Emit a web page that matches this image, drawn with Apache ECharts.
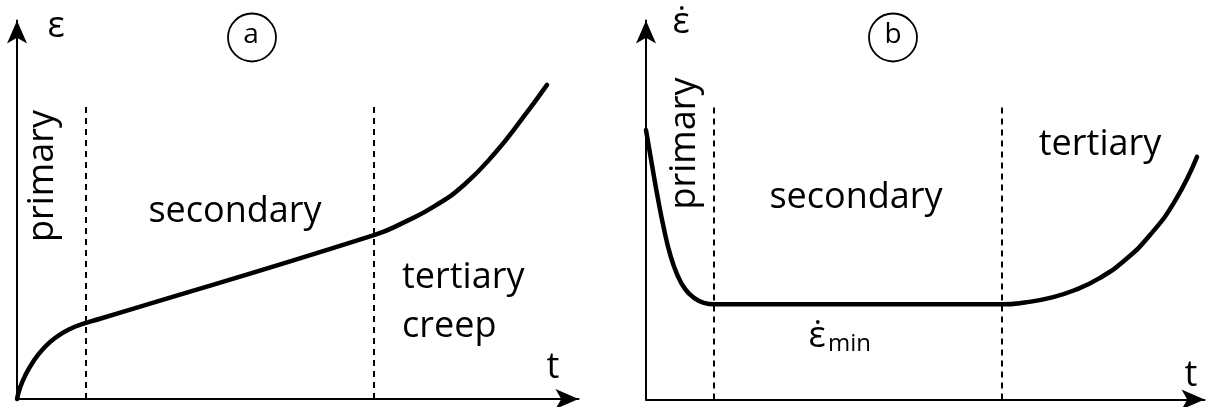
<!DOCTYPE html>
<html>
<head>
<meta charset="utf-8">
<script src="https://cdn.jsdelivr.net/npm/echarts@6/dist/echarts.min.js"></script>
<style>
  html, body { margin: 0; padding: 0; background: #fff; }
  #chart { width: 1217px; height: 407px; }
</style>
</head>
<body>
<div id="chart"></div>
<script>
// (a) creep strain ε against time t (arbitrary units, 0–100)
const strainTime   = [0, 0.53, 1.42, 2.85, 4.63, 6.77, 9.44, 12.29, 14.78, 63.58, 69.10, 74.44, 79.79, 85.13, 89.94, 94.39];
const strainValues = [0, 2.9, 6.1, 9.8, 13.2, 16.1, 18.5, 20.1, 21.2, 43.3, 46.8, 51.0, 56.8, 65.0, 74.0, 83.0];

// (b) creep rate ε̇ against time t
const rateTime   = [0, 1.07, 2.15, 3.22, 4.30, 5.55, 6.98, 8.59, 10.38, 12.18, 63.74, 67.86, 72.34, 76.81, 81.29, 85.77, 90.24, 94.72, 98.66];
const rateValues = [71.1, 61.9, 52.9, 45.0, 38.4, 33.1, 29.2, 26.8, 25.5, 25.1, 25.1, 25.6, 26.8, 28.9, 32.1, 36.8, 43.4, 52.4, 64.0];

// stage boundaries (primary | secondary | tertiary) and height of the dashed guides
const boundariesA = [12.29, 63.58];
const boundariesB = [12.18, 63.74];
const boundaryTop = 78.2;

const FONT = '"Open Sans", "Noto Sans", sans-serif';

const pairs = (xs, ys) => xs.map((x, i) => [x, ys[i]]);

function axisPair(gridIndex) {
  const line = {
    show: true,
    onZero: false,
    symbol: ['none', 'arrow'],
    symbolSize: [15, 23],
    lineStyle: { color: '#000', width: 2 }
  };
  const common = {
    type: 'value', min: 0, max: 100, gridIndex,
    axisLine: line,
    axisTick: { show: false },
    axisLabel: { show: false },
    splitLine: { show: false }
  };
  return [common, Object.assign({}, common)];
}

const [xA, yA] = axisPair(0);
const [xB, yB] = axisPair(1);

function curve(idx, data) {
  return {
    type: 'line', xAxisIndex: idx, yAxisIndex: idx,
    data, smooth: 0.5, symbol: 'none', clip: false, z: 5,
    lineStyle: { color: '#000', width: 4.5, cap: 'round' }
  };
}

function guides(idx, bounds) {
  return bounds.map(b => ({
    type: 'line', xAxisIndex: idx, yAxisIndex: idx,
    data: [[b, 0], [b, boundaryTop]], symbol: 'none', z: 3,
    lineStyle: { color: '#000', width: 2, type: [6, 5] }
  }));
}

function label(text, x, y, size, align, extra) {
  return Object.assign({
    type: 'text', x, y, z: 10,
    style: {
      text, fill: '#000', font: `${size}px ${FONT}`,
      align: align || 'center', verticalAlign: 'middle'
    }
  }, extra || {});
}

const ring = cx => ({
  type: 'circle', z: 10,
  shape: { cx, cy: 37.5, r: 24 },
  style: { fill: 'none', stroke: '#000', lineWidth: 1.8 }
});

const option = {
  animation: false,
  backgroundColor: '#fff',
  grid: [
    { left: 17, top: 20.5, width: 561.5, height: 378.5 },
    { left: 646, top: 20.5, width: 558.5, height: 379 }
  ],
  xAxis: [xA, xB],
  yAxis: [yA, yB],
  series: [
    curve(0, pairs(strainTime, strainValues)),
    curve(1, pairs(rateTime, rateValues)),
    ...guides(0, boundariesA),
    ...guides(1, boundariesB)
  ],
  graphic: [
    // panel (a)
    label('ε', 56, 27, 36),
    ring(252),
    label('a', 251, 34.9, 28),
    label('primary', 43, 176, 36, 'center', { rotation: Math.PI / 2 }),
    label('secondary', 235, 211.6, 36),
    label('tertiary', 402, 277.6, 36, 'left'),
    label('creep', 402, 326.6, 36, 'left'),
    label('t', 553, 367.6, 36),
    // panel (b)
    label('ε\u0307', 681, 22.6, 36),
    ring(893),
    label('b', 893, 34.9, 28),
    label('primary', 684.6, 143.5, 36, 'center', { rotation: Math.PI / 2 }),
    label('secondary', 856, 197.6, 36),
    label('tertiary', 1100, 144.6, 36),
    label('ε\u0307', 817, 336.6, 36),
    label('min', 828, 344, 24, 'left'),
    label('t', 1191, 375.6, 36)
  ]
};

const chart = echarts.init(document.getElementById('chart'), null, { renderer: 'canvas' });
chart.setOption(option);
</script>
</body>
</html>
